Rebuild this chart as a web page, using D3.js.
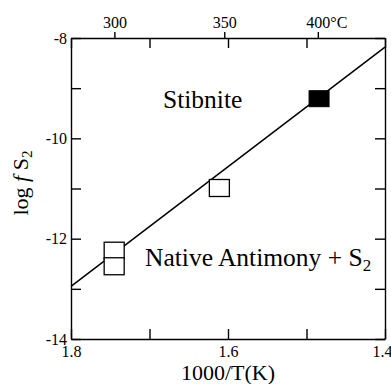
<!DOCTYPE html>
<html>
<head>
<meta charset="utf-8">
<script src="https://cdn.jsdelivr.net/npm/d3@7"></script>
<style>
  body { margin: 0; background: #fff; }
  .axis path, .axis line { stroke: #000; stroke-width: 1.4px; }
  .axis text { font-size: 16px; fill: #000; }
</style>
</head>
<body>
<svg></svg>
<script>
var width = 391;
var height = 384;
var margin = { top: 38, right: 6, bottom: 45, left: 71 };
var serif = "Liberation Serif";

// bottom axis: 1000/T(K)
var xTicks = [1.8, 1.7, 1.6, 1.5, 1.4];
var xLabels = [1.8, 1.6, 1.4];
// left axis: log f S2
var yTicks = [-8, -9, -10, -11, -12, -13, -14];
var yLabels = [-8, -10, -12, -14];
// top axis: temperature in degrees C
var tempTicks = [300, 350, 400];

// stibnite / native antimony boundary
var boundary = [
    { x: 1.8, y: -12.95 },
    { x: 1.4, y: -8.18 }
];
// measured points
var openPts = [
    { x: 1.745, y: -12.24 },
    { x: 1.745, y: -12.55 },
    { x: 1.611, y: -10.99 }
];
var filledPts = [
    { x: 1.484, y: -9.21 }
];

var svg = d3.select("svg")
    .attr("width", width)
    .attr("height", height)
    .style("font-family", serif);

var x = d3.scaleLinear()
    .domain([1.8, 1.4])
    .range([margin.left, width - margin.right]);

var y = d3.scaleLinear()
    .domain([-14, -8])
    .range([height - margin.bottom, margin.top]);

function fmt(d) { return d3.format(".1f")(d); }

// bottom
var bottom = svg.append("g")
    .attr("class", "axis")
    .attr("transform", "translate(0," + y(-14) + ")")
    .call(d3.axisBottom(x)
        .tickValues(xTicks)
        .tickSizeInner(-10)
        .tickSizeOuter(0)
        .tickPadding(7)
        .tickFormat(function(d) { return xLabels.indexOf(d) >= 0 ? fmt(d) : ""; }));
// last label sits against the page edge
bottom.selectAll(".tick text")
    .filter(function(d) { return d == 1.4; })
    .attr("dx", -3);

// left
svg.append("g")
    .attr("class", "axis")
    .attr("transform", "translate(" + x(1.8) + ",0)")
    .call(d3.axisLeft(y)
        .tickValues(yTicks)
        .tickSizeInner(-10)
        .tickSizeOuter(0)
        .tickPadding(4)
        .tickFormat(function(d) { return yLabels.indexOf(d) >= 0 ? d : ""; }));

// right (mirror ticks)
svg.append("g")
    .attr("class", "axis")
    .attr("transform", "translate(" + x(1.4) + ",0)")
    .call(d3.axisRight(y)
        .tickValues(yTicks)
        .tickSizeInner(-10)
        .tickSizeOuter(0)
        .tickFormat(""));

// top (mirror ticks)
svg.append("g")
    .attr("class", "axis")
    .attr("transform", "translate(0," + y(-8) + ")")
    .call(d3.axisTop(x)
        .tickValues(xTicks)
        .tickSizeInner(-10)
        .tickSizeOuter(0)
        .tickFormat(""));

// top temperature ticks
var topT = svg.append("g")
    .attr("class", "axis")
    .attr("transform", "translate(0," + y(-8) + ")")
    .call(d3.axisTop(x)
        .tickValues(tempTicks.map(function(t) { return 1000 / (t + 273.15); }))
        .tickSizeInner(6)
        .tickSizeOuter(0)
        .tickPadding(4)
        .tickFormat(function(d, i) { return tempTicks[i]; }));
topT.select(".domain").remove();
// the last label gets the unit, keeping the number centred on its tick
topT.selectAll(".tick text")
    .filter(function(d, i) { return i == tempTicks.length - 1; })
    .attr("text-anchor", "start")
    .attr("x", -12)
    .text(tempTicks[tempTicks.length - 1] + "°C");

// d3 puts sans-serif on every axis group, swap it for the serif face
svg.selectAll(".axis").attr("font-family", serif).attr("font-size", 16);

// boundary line
var line = d3.line()
    .x(function(d) { return x(d.x); })
    .y(function(d) { return y(d.y); });

svg.append("path")
    .datum(boundary)
    .attr("d", line)
    .attr("fill", "none")
    .attr("stroke", "#000")
    .attr("stroke-width", 1.5);

var sw = 20, sh = 17;

svg.append("g").selectAll("rect")
    .data(openPts)
  .enter().append("rect")
    .attr("x", function(d) { return x(d.x) - sw / 2; })
    .attr("y", function(d) { return y(d.y) - sh / 2; })
    .attr("width", sw)
    .attr("height", sh)
    .attr("fill", "#fff")
    .attr("stroke", "#000")
    .attr("stroke-width", 1.3);

svg.append("g").selectAll("rect")
    .data(filledPts)
  .enter().append("rect")
    .attr("x", function(d) { return x(d.x) - sw / 2; })
    .attr("y", function(d) { return y(d.y) - 8; })
    .attr("width", sw)
    .attr("height", 16)
    .attr("fill", "#000")
    .attr("stroke", "#000")
    .attr("stroke-width", 1);

// field labels
svg.append("text")
    .attr("x", 163)
    .attr("y", 108)
    .style("font-family", serif)
    .style("font-size", "25.5px")
    .text("Stibnite");

var nat = svg.append("text")
    .attr("x", 145)
    .attr("y", 266)
    .style("font-family", serif)
    .style("font-size", "25.5px");
nat.append("tspan").text("Native Antimony + S");
nat.append("tspan").attr("dy", 5).style("font-size", "17px").text("2");

// axis titles
svg.append("text")
    .attr("x", x(1.6))
    .attr("y", 380)
    .attr("text-anchor", "middle")
    .style("font-family", serif)
    .style("font-size", "22px")
    .text("1000/T(K)");

var yl = svg.append("text")
    .attr("transform", "translate(28," + 183 + ") rotate(-90)")
    .attr("text-anchor", "middle")
    .style("font-family", serif)
    .style("font-size", "22px");
yl.append("tspan").text("log ");
yl.append("tspan").style("font-style", "italic").text("f");
yl.append("tspan").text(" S");
yl.append("tspan").attr("dy", 4).style("font-size", "15px").text("2");
</script>
</body>
</html>
